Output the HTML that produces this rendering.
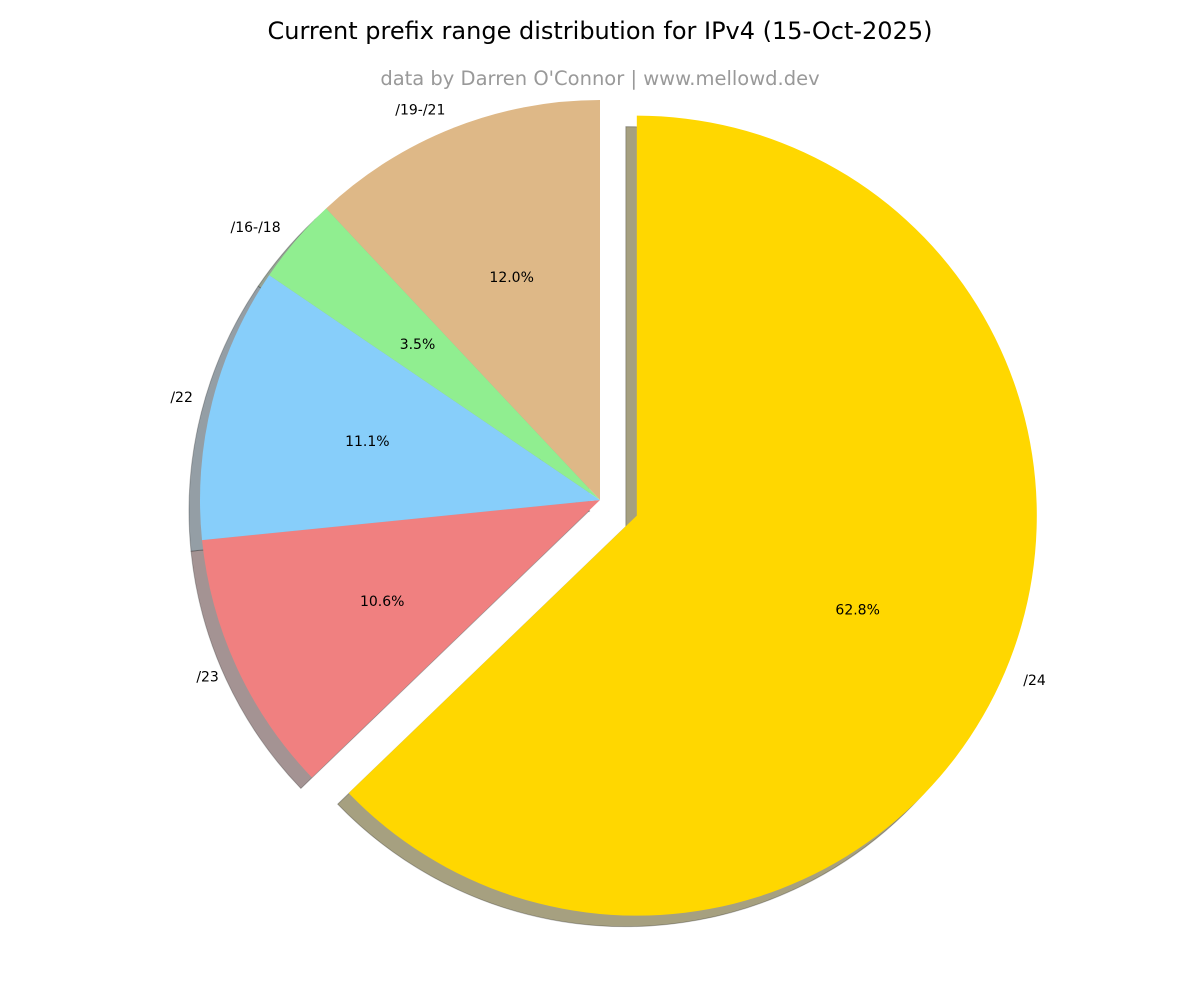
<!DOCTYPE html>
<html><head><meta charset="utf-8">
<style>
html,body{margin:0;padding:0;background:#fff;}
svg{display:block;font-family:"DejaVu Sans","Liberation Sans",sans-serif;}
</style></head>
<body>
<svg id="chart" width="1200" height="1000" viewBox="0 0 1200 1000">
<text x="600" y="39" text-anchor="middle" font-size="24" fill="#000">Current prefix range distribution for IPv4 (15-Oct-2025)</text>
<text x="600" y="85" text-anchor="middle" font-size="19.5" fill="#999">data by Darren O'Connor | www.mellowd.dev</text>
<g id="shadows"></g>
<g id="wedges"></g>
<g id="labels"></g>
</svg>
<script>
const categories = ["/24", "/23", "/22", "/16-/18", "/19-/21"];
const values = [62.8, 10.6, 11.1, 3.5, 12.0];
const explode = [0.1, 0, 0, 0, 0];
const colors = ["#ffd700", "#f08080", "#87cefa", "#90ee90", "#deb887"];

const NS = "http://www.w3.org/2000/svg";
const cx = 600, cy = 500, R = 400, SH = 11;
const total = values.reduce((a, b) => a + b, 0);
function pt(x0, y0, r, deg) {
  const a = deg * Math.PI / 180;
  return [x0 + r * Math.cos(a), y0 - r * Math.sin(a)];
}
function wedgePath(x0, y0, a1, a2) {
  const p1 = pt(x0, y0, R, a1), p2 = pt(x0, y0, R, a2);
  const large = (a1 - a2) > 180 ? 1 : 0;
  return `M${x0},${y0} L${p1[0]},${p1[1]} A${R},${R} 0 ${large} 1 ${p2[0]},${p2[1]} Z`;
}
function shade(hex) {
  const n = parseInt(hex.slice(1), 16);
  const c = [(n >> 16) & 255, (n >> 8) & 255, n & 255].map(v => Math.round(0.5 * 0.3 * v + 0.5 * 255));
  return `rgb(${c[0]},${c[1]},${c[2]})`;
}
const sG = document.getElementById("shadows");
const wG = document.getElementById("wedges");
const lG = document.getElementById("labels");
let ang = 90;
values.forEach((v, i) => {
  const sweep = v / total * 360;
  const a1 = ang, a2 = ang - sweep, mid = (a1 + a2) / 2;
  const off = pt(0, 0, explode[i] * R, mid);
  const x0 = cx + off[0], y0 = cy + off[1];
  const sh = document.createElementNS(NS, "path");
  sh.setAttribute("d", wedgePath(x0 - SH, y0 + SH, a1, a2));
  sh.setAttribute("fill", shade(colors[i]));
  sh.setAttribute("stroke", "rgba(0,0,0,0.25)");
  sh.setAttribute("stroke-width", "1");
  
  
  sG.appendChild(sh);
  const w = document.createElementNS(NS, "path");
  w.setAttribute("d", wedgePath(x0, y0, a1, a2));
  w.setAttribute("fill", colors[i]);
  
  
  wG.appendChild(w);
  const lp = pt(x0, y0, R * 1.05, mid);
  const lt = document.createElementNS(NS, "text");
  lt.setAttribute("x", lp[0]);
  lt.setAttribute("y", lp[1] + 5);
  lt.setAttribute("font-size", "14");
  lt.setAttribute("text-anchor", lp[0] > cx + 1 ? "start" : (lp[0] < cx - 1 ? "end" : "middle"));
  lt.textContent = categories[i];
  
  
  lG.appendChild(lt);
  const pp = pt(x0, y0, R * 0.6, mid);
  const pc = document.createElementNS(NS, "text");
  pc.setAttribute("x", pp[0]);
  pc.setAttribute("y", pp[1] + 5);
  pc.setAttribute("font-size", "14");
  pc.setAttribute("text-anchor", "middle");
  pc.textContent = v.toFixed(1) + "%";
  
  
  lG.appendChild(pc);
  ang = a2;
});
</script>
</body></html>
